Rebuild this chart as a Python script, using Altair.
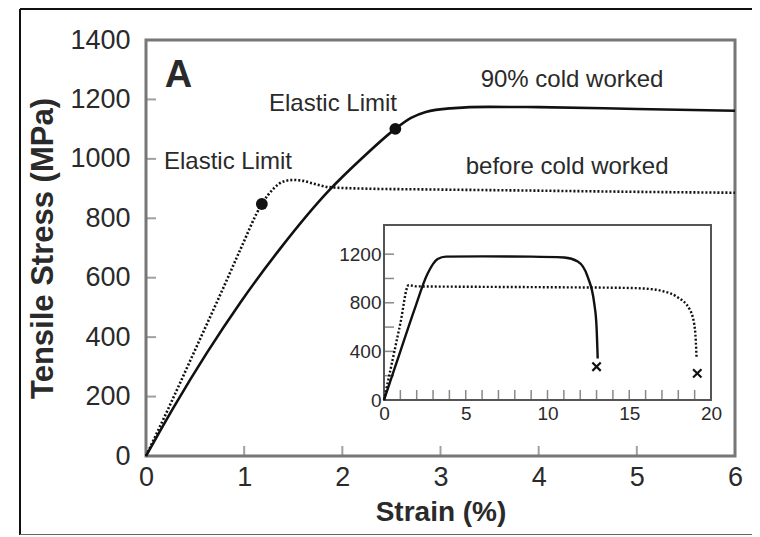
import altair as alt
import pandas as pd

# ---------------- data ----------------
main_solid_x = [0, 0.28, 0.62, 0.96, 1.365, 1.86, 2.2, 2.54, 2.7, 2.85, 3.1, 3.5, 4.0, 5.0, 6.0]
main_solid_y = [0, 163, 347, 516, 697, 892, 1002, 1101, 1138, 1158, 1170, 1175, 1174, 1168, 1162]

main_dot_x = [0, 0.2, 0.5, 0.8, 0.96, 1.18, 1.3, 1.4, 1.5, 1.6, 1.7, 1.86, 2.2, 2.9, 4.0, 5.0, 6.0]
main_dot_y = [0, 140, 357, 575, 694, 848, 900, 924, 929, 926, 917, 905, 900, 897, 893, 889, 886]

elastic_x = [1.18, 2.54]
elastic_y = [848, 1101]

label_text = ["Elastic Limit", "Elastic Limit", "90% cold worked", "before cold worked"]
label_x = [0.835, 1.905, 4.34, 4.29]
label_y = [990, 1185, 1266, 973]

panel_text = ["A"]
panel_x = [0.19]
panel_y = [1279]

main_xticks = [0, 1, 2, 3, 4, 5, 6]
main_yticks = [0, 200, 400, 600, 800, 1000, 1200, 1400]

inset_solid_x = [0, 0.5, 1.0, 1.85, 2.67, 3.28, 3.79, 6, 9, 11.03, 11.85, 12.46, 12.86, 13.0, 13.07]
inset_solid_y = [0, 200, 400, 740, 1041, 1160, 1180, 1182, 1180, 1172, 1140, 1013, 794, 602, 342]

inset_dot_x = [0, 0.5, 1.0, 1.5, 2.0, 5, 10, 15, 16.5, 17.08, 17.9, 18.72, 19.02, 19.12]
inset_dot_y = [0, 315, 630, 945, 935, 932, 928, 922, 910, 895, 850, 740, 580, 340]

fracture_x = [13.0, 19.16]
fracture_y = [274, 219]

inset_xlabels = [0, 5, 10, 15, 20]
inset_ylabels = [0, 400, 800, 1200]
inset_xminor = list(range(1, 20))
inset_yminor = [200, 400, 600, 800, 1000, 1200]

# ---------------- styling ----------------
FONT = "Liberation Sans"
INK = "#111111"
TXT = "#2a2a2a"
FRAME = "#777777"

W, H = 589, 416

# ---------------- main panel ----------------
mx = alt.X("x:Q", scale=alt.Scale(domain=[0, 6], nice=False, zero=False),
           axis=alt.Axis(values=main_xticks, title="Strain (%)", grid=False, domain=False, ticks=False,
                         labelFont=FONT, labelFontSize=27, labelColor=TXT, labelPadding=8,
                         titleFont=FONT, titleFontSize=28, titleFontWeight="bold", titleColor=TXT,
                         titlePadding=8, format="d", labelFlush=False))
my = alt.Y("y:Q", scale=alt.Scale(domain=[0, 1400], nice=False),
           axis=alt.Axis(values=main_yticks, title="Tensile Stress (MPa)", grid=False, domain=False, ticks=False,
                         labelFont=FONT, labelFontSize=27, labelColor=TXT, labelPadding=16,
                         titleFont=FONT, titleFontSize=31, titleFontWeight="bold", titleColor=TXT,
                         titlePadding=10, format="d", labelFlush=False))

solid_df = pd.DataFrame({"x": main_solid_x, "y": main_solid_y})
dot_df = pd.DataFrame({"x": main_dot_x, "y": main_dot_y})
el_df = pd.DataFrame({"x": elastic_x, "y": elastic_y})
lab_df = pd.DataFrame({"x": label_x, "y": label_y, "t": label_text})
pan_df = pd.DataFrame({"x": panel_x, "y": panel_y, "t": panel_text})
mxt_df = pd.DataFrame({"x": main_xticks[1:-1], "y": [0] * len(main_xticks[1:-1])})
myt_df = pd.DataFrame({"x": [0] * len(main_yticks[1:-1]), "y": main_yticks[1:-1]})

main_solid = alt.Chart(solid_df).mark_line(color=INK, strokeWidth=2.6, interpolate="monotone").encode(x=mx, y=my)
main_dot = alt.Chart(dot_df).mark_line(color=INK, strokeWidth=2.6, strokeDash=[2, 2],
                                        interpolate="monotone").encode(x=mx, y=my)
main_pts = alt.Chart(el_df).mark_circle(color=INK, size=140, opacity=1).encode(x=mx, y=my)
main_lab = alt.Chart(lab_df).mark_text(font=FONT, fontSize=24, color=TXT, align="center",
                                        baseline="middle").encode(x=mx, y=my, text="t:N")
main_pan = alt.Chart(pan_df).mark_text(font=FONT, fontSize=38, fontWeight="bold", color=TXT, align="left",
                                        baseline="middle").encode(x=mx, y=my, text="t:N")
main_xt = alt.Chart(mxt_df).mark_tick(orient="vertical", size=10, thickness=2, yOffset=-5,
                                      color=FRAME).encode(x=mx, y=my)
main_yt = alt.Chart(myt_df).mark_tick(orient="horizontal", size=10, thickness=2, xOffset=5,
                                      color=FRAME).encode(x=mx, y=my)

border_df = pd.DataFrame({"a": [0]})
b_left = alt.Chart(border_df).mark_rule(color="#111", strokeWidth=2).encode(
    x=alt.value(-126), y=alt.value(-31), y2=alt.value(495))
b_top = alt.Chart(border_df).mark_rule(color="#111", strokeWidth=2).encode(
    x=alt.value(-126), x2=alt.value(620), y=alt.value(-31))
b_bot = alt.Chart(border_df).mark_rule(color="#666", strokeWidth=2).encode(
    x=alt.value(-126), x2=alt.value(620), y=alt.value(495))

main = alt.layer(main_xt, main_yt, main_solid, main_dot, main_pts, main_lab, main_pan, b_left, b_top, b_bot)

# ---------------- inset ----------------
ix = alt.X("x:Q", scale=alt.Scale(domain=[0, 20], range=[238, 565], nice=False),
           axis=alt.Axis(orient="bottom", offset=-56, values=inset_xlabels, title=None, grid=False,
                         domain=False, ticks=False, labelFont=FONT, labelFontSize=19, labelColor=TXT,
                         labelPadding=4, format="d", labelFlush=False))
iy = alt.Y("y:Q", scale=alt.Scale(domain=[0, 1440], range=[360, 185], nice=False),
           axis=alt.Axis(orient="left", offset=-238, values=inset_ylabels, title=None, grid=False,
                         domain=False, ticks=False, labelFont=FONT, labelFontSize=19, labelColor=TXT,
                         labelPadding=3, format="d", labelFlush=False))

frame_df = pd.DataFrame({"x": [0], "y": [0], "x2": [20], "y2": [1440]})
in_frame = alt.Chart(frame_df).mark_rect(fill="white", stroke="#555555", strokeWidth=2).encode(
    x=ix, y=iy, x2="x2:Q", y2="y2:Q")
ixt_df = pd.DataFrame({"x": inset_xminor, "y": [0] * len(inset_xminor)})
iyt_df = pd.DataFrame({"x": [0] * len(inset_yminor), "y": inset_yminor})
in_xt = alt.Chart(ixt_df).mark_tick(orient="vertical", size=10, thickness=1.5, yOffset=-5,
                                    color="#555555").encode(x=ix, y=iy)
in_yt = alt.Chart(iyt_df).mark_tick(orient="horizontal", size=10, thickness=1.5, xOffset=5,
                                    color="#555555").encode(x=ix, y=iy)
is_df = pd.DataFrame({"x": inset_solid_x, "y": inset_solid_y})
id_df = pd.DataFrame({"x": inset_dot_x, "y": inset_dot_y})
fr_df = pd.DataFrame({"x": fracture_x, "y": fracture_y})
in_solid = alt.Chart(is_df).mark_line(color=INK, strokeWidth=2.4, interpolate="monotone").encode(x=ix, y=iy)
in_dot = alt.Chart(id_df).mark_line(color=INK, strokeWidth=2.4, strokeDash=[2, 2],
                                     interpolate="monotone").encode(x=ix, y=iy)
in_x = alt.Chart(fr_df).mark_point(shape="M -1 -1 L 1 1 M -1 1 L 1 -1", filled=False, size=70,
                                    strokeWidth=2.2, color=INK, opacity=1).encode(x=ix, y=iy)

inset = alt.layer(in_frame, in_xt, in_yt, in_solid, in_dot, in_x)

chart = alt.layer(main, inset).resolve_scale(x="independent", y="independent").properties(
    width=W, height=H,
    autosize=alt.AutoSizeParams(type="none"),
    padding={"left": 138, "top": 32, "right": 17, "bottom": 79},
    background="white",
).configure_view(stroke=FRAME, strokeWidth=3)

chart.save("out.html", embed_options={"renderer": "svg", "actions": False})
